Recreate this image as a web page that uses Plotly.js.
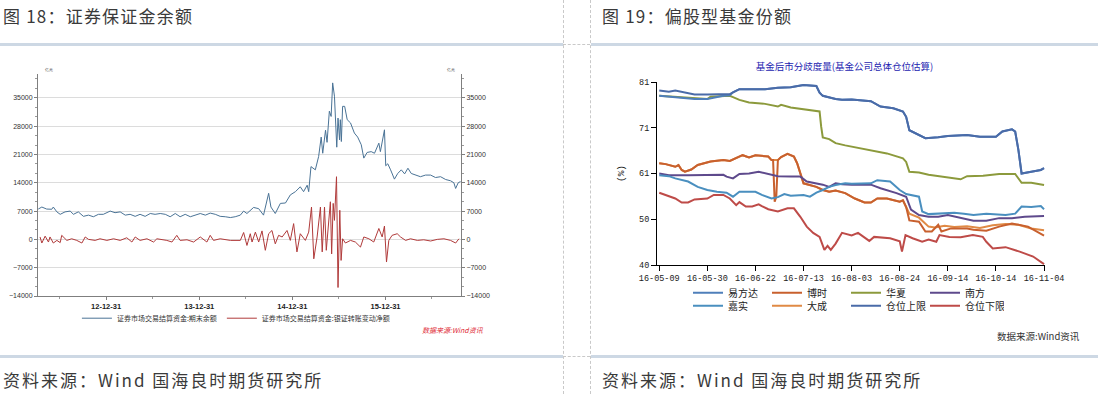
<!DOCTYPE html>
<html><head><meta charset="utf-8">
<script src="https://cdn.plot.ly/plotly-3.0.1.min.js"></script>
<style>
html,body{margin:0;padding:0;background:#fff;}
body{width:1098px;height:394px;position:relative;overflow:hidden;font-family:"Noto Sans CJK SC","Noto Sans",sans-serif;}
.hd{position:absolute;font-size:17px;line-height:24px;color:#3a3a3a;letter-spacing:1.2px;white-space:nowrap;}
.bar{position:absolute;height:3px;background:#cdd8e4;}
.vd{position:absolute;top:0;height:394px;border-left:1px dashed #c9c9c9;}
.hdsh{position:absolute;height:0;border-top:1px dashed #c9c9c9;}
.chart{position:absolute;top:0;height:394px;}
</style></head><body>
<div class="hd" style="left:3px;top:4px;">图 18：证券保证金余额</div>
<div class="hd" style="left:602px;top:4px;">图 19：偏股型基金份额</div>
<div class="bar" style="left:0;top:43px;width:563px;"></div>
<div class="bar" style="left:591px;top:43px;width:507px;"></div>
<div class="bar" style="left:0;top:355px;width:563px;"></div>
<div class="bar" style="left:591px;top:355px;width:507px;"></div>
<div class="vd" style="left:563px;"></div>
<div class="vd" style="left:590px;"></div>
<div class="hdsh" style="left:563px;top:44px;width:27px;"></div>
<div class="hdsh" style="left:563px;top:356px;width:27px;"></div>
<div class="hd" style="left:3px;top:368px;letter-spacing:2px;">资料来源：Wind 国海良时期货研究所</div>
<div class="hd" style="left:602px;top:368px;letter-spacing:2px;">资料来源：Wind 国海良时期货研究所</div>
<div id="c1" class="chart" style="left:0;width:563px;"></div>
<div id="c2" class="chart" style="left:591px;width:507px;"></div>
<script>
// ---------- Chart 1: 证券保证金 ----------
const balanceName = "证券市场交易结算资金:期末余额";
const changeName = "证券市场交易结算资金:银证转账变动净额";
const balanceDates = ["2012-04-09","2012-04-23","2012-05-12","2012-06-01","2012-06-07","2012-06-21","2012-07-04","2012-07-23","2012-08-12","2012-08-25","2012-09-13","2012-10-03","2012-10-23","2012-11-11","2012-12-01","2012-12-20","2013-01-16","2013-02-04","2013-02-24","2013-03-16","2013-04-04","2013-04-24","2013-05-13","2013-06-02","2013-06-22","2013-07-11","2013-07-31","2013-08-20","2013-09-08","2013-09-28","2013-10-17","2013-11-06","2013-11-26","2013-12-15","2014-01-04","2014-01-24","2014-02-12","2014-03-04","2014-03-23","2014-04-12","2014-05-02","2014-05-21","2014-06-10","2014-06-23","2014-07-06","2014-08-01","2014-08-21","2014-09-09","2014-09-29","2014-10-08","2014-10-25","2014-11-14","2014-12-04","2014-12-23","2015-01-12","2015-01-31","2015-02-13","2015-02-27","2015-03-05","2015-03-14","2015-03-31","2015-04-13","2015-04-23","2015-04-29","2015-05-10","2015-05-16","2015-05-25","2015-06-01","2015-06-07","2015-06-14","2015-06-19","2015-06-23","2015-06-28","2015-07-04","2015-07-07","2015-07-11","2015-07-16","2015-07-24","2015-08-03","2015-08-16","2015-08-31","2015-09-13","2015-09-27","2015-10-07","2015-10-20","2015-11-05","2015-11-18","2015-11-28","2015-12-05","2015-12-11","2015-12-19","2015-12-27","2016-01-01","2016-01-09","2016-01-20","2016-02-04","2016-02-17","2016-03-02","2016-03-15","2016-03-28","2016-04-10","2016-04-27","2016-05-16","2016-06-05","2016-06-25","2016-07-14","2016-08-03","2016-08-23","2016-09-11","2016-09-24","2016-10-01","2016-10-11","2016-10-20"];
const balanceVals = [7500,8000,7500,7450,8000,6800,6200,6800,7000,6200,6800,5700,6000,5600,6200,6200,7000,6600,6800,6000,6200,5700,6200,5700,6400,6200,6400,6200,5600,6400,5600,6200,5600,6000,6400,6000,6500,6200,5700,5600,5400,5600,6000,7000,6400,7900,7600,6000,11400,8000,6400,8900,9000,11000,11800,13000,11800,13400,11800,18000,17200,20500,25300,21300,27000,24000,31700,30400,38700,35400,25900,22800,30000,24600,29600,24200,32900,32900,29600,28800,26300,25300,23400,20100,21500,21700,21300,22600,23800,21700,24600,27100,18200,18700,17200,14900,16300,17200,16200,17600,16300,15900,15500,15900,15900,15300,15500,14800,14500,14000,12600,14000,14300];
const changeDates = ["2012-04-16","2012-04-23","2012-05-06","2012-05-19","2012-05-25","2012-06-07","2012-06-21","2012-07-04","2012-07-10","2012-07-30","2012-08-18","2012-09-07","2012-09-27","2012-10-10","2012-10-23","2012-11-18","2012-12-07","2013-01-03","2013-01-29","2013-02-24","2013-03-22","2013-04-11","2013-04-24","2013-05-13","2013-06-09","2013-07-05","2013-07-18","2013-08-26","2013-09-15","2013-10-04","2013-10-17","2013-11-13","2013-12-09","2014-01-04","2014-01-30","2014-02-12","2014-02-25","2014-03-23","2014-05-02","2014-06-10","2014-06-23","2014-07-06","2014-07-19","2014-07-26","2014-08-08","2014-08-21","2014-09-03","2014-09-16","2014-09-29","2014-10-12","2014-10-25","2014-11-07","2014-11-21","2014-12-10","2014-12-23","2015-01-05","2015-01-18","2015-01-31","2015-02-20","2015-03-05","2015-03-16","2015-03-25","2015-04-07","2015-04-20","2015-04-27","2015-05-06","2015-05-13","2015-05-23","2015-05-29","2015-06-03","2015-06-09","2015-06-14","2015-06-22","2015-06-28","2015-07-05","2015-07-10","2015-07-16","2015-07-27","2015-08-16","2015-09-04","2015-09-24","2015-10-07","2015-10-27","2015-11-15","2015-12-05","2015-12-18","2015-12-27","2016-01-04","2016-01-13","2016-01-26","2016-02-15","2016-02-28","2016-03-19","2016-04-07","2016-05-04","2016-05-29","2016-06-25","2016-07-21","2016-08-16","2016-09-11","2016-10-01","2016-10-14"];
const changeVals = [600,-900,800,-650,600,-900,-250,-800,1000,-250,150,-250,-900,600,0,-250,150,-250,150,-250,400,-650,600,-250,150,-650,150,-250,-650,1000,-250,-100,-650,600,-650,1000,-250,150,-250,-250,1700,-1500,1400,-650,1800,-650,2100,-2700,1400,2200,-1100,1000,600,2200,-250,3900,-3100,1400,-250,1800,8000,-4800,600,8000,-3100,8000,-2700,5600,9300,-3600,8900,4700,15500,-11900,7200,-5200,150,-900,-250,-650,-1900,600,150,-650,2700,600,3300,-5600,-250,1000,1400,600,-250,150,-250,-100,-400,0,150,-250,-900,150];
const c1Ticks = [-14000,-7000,0,7000,14000,21000,28000,35000];

const tickFont1 = {family:"Liberation Sans, Arial", size:7, color:"#333"};
const yCommon1 = {range:[-14000,40900], tickvals:c1Ticks, tickformat:"d", showline:true, linecolor:"#7f7f7f", linewidth:1,
  ticks:"outside", ticklen:3, tickcolor:"#7f7f7f", tickfont:tickFont1, zeroline:false,
  minor:{dtick:7000/3, ticks:"outside", ticklen:2, tickcolor:"#9a9a9a", showgrid:false}};
Plotly.newPlot("c1", [
  {x:balanceDates, y:balanceVals, name:balanceName, type:"scatter", mode:"lines", line:{color:"#4a7396", width:1}},
  {x:changeDates, y:changeVals, name:changeName, type:"scatter", mode:"lines", line:{color:"#b03a3a", width:1}},
  {x:balanceDates, y:balanceVals, yaxis:"y2", type:"scatter", mode:"lines", showlegend:false, hoverinfo:"skip", line:{color:"rgba(0,0,0,0)", width:0}}
], {
  width:563, height:394, margin:{l:38, r:102, t:74, b:98},
  paper_bgcolor:"rgba(0,0,0,0)", plot_bgcolor:"#fff", showlegend:true,
  xaxis:{type:"date", range:["2012-04-08","2016-10-22"], tick0:"2012-12-31", dtick:"M12", tickformat:"%y-%m-%d",
    showline:true, linecolor:"#7f7f7f", ticks:"outside", ticklen:3, tickcolor:"#7f7f7f", showgrid:false,
    tickfont:{family:"Liberation Sans, Arial", size:7.5, color:"#222", weight:"bold"},
    minor:{dtick:"M6", tick0:"2012-12-31", ticks:"outside", ticklen:2, tickcolor:"#9a9a9a", showgrid:false}},
  yaxis:Object.assign({}, yCommon1, {showgrid:true, gridcolor:"#dcdcdc", gridwidth:1}),
  yaxis2:Object.assign({}, yCommon1, {overlaying:"y", side:"right", showgrid:false}),
  legend:{orientation:"h", x:0.092, xanchor:"left", y:-0.1, yanchor:"middle",
    font:{family:"Noto Sans CJK SC", size:7, color:"#333"}, bgcolor:"rgba(0,0,0,0)"},
  annotations:[
    {xref:"paper", yref:"paper", x:0.01, y:1.0, xanchor:"left", yanchor:"bottom", text:"亿元", showarrow:false, font:{size:4, color:"#333"}},
    {xref:"paper", yref:"paper", x:0.99, y:1.0, xanchor:"right", yanchor:"bottom", text:"亿元", showarrow:false, font:{size:4, color:"#333"}},
    {xref:"paper", yref:"paper", x:(486-38)/423, y:-0.155, xanchor:"right", yanchor:"middle", text:"<i>数据来源:Wind资讯</i>", showarrow:false, font:{family:"Noto Sans CJK SC", size:7, color:"#e02a36"}}
  ]
}, {staticPlot:true});

// ---------- Chart 2: 基金后市分歧度量 ----------
const dayTickVals = [0,15,30,45,60,75,90,105,120];
const dayTickText = ["16-05-09","16-05-30","16-06-22","16-07-13","16-08-03","16-08-24","16-09-14","16-10-14","16-11-04"];
const yTickVals = [40,50.25,60.5,70.75,81];
const yTickText = ["40","50","61","71","81"];

const yfdX = [0,3,5,8,11,15,20,22,23,25,28,33,37,41,45,49,50,51,55,57,60,66,69,73,76,77,78,81,83,87,90,96,100,105,107,110,111,112,113,116,119,120];
const yfdY = [77.9,77.7,77.6,77.5,77.2,77.2,77.9,78.0,78.7,79.4,79.4,79.4,79.7,79.8,80.3,80.1,78.6,77.9,77.2,77.0,77.1,76.7,75.5,75.1,74.4,73.2,70.2,69.1,68.4,68.6,68.9,69.1,68.75,68.75,69.9,70.4,69.9,65.8,60.5,60.9,61.3,61.7];
const bsX = [0,2,5,6,7,8,10,12,16,20,22,24,26,28,30,34,35,35.5,36,36.5,37,38,40,42,43,45,49,51,53,55,58,61,64,66,68,71,75,76,77,78,81,83,85,87,88,91,96,98,102,106,110,115,119,120];
const bsY = [62.8,62.6,62.0,62.4,61.3,60.9,61.4,62.4,63.2,63.5,63.3,63.9,64.6,64.1,64.6,64.3,63.5,63.5,54.2,55.3,63.5,64.2,64.9,64.3,62.8,58.3,57.5,56.8,56.4,56.7,56.1,54.9,54.0,54.0,54.9,54.9,54.2,54.5,53.0,50.0,49.7,47.5,47.5,49.0,47.5,48.2,48.2,47.9,47.7,48.6,49.3,48.6,47.1,46.6];
const hxX = [0,4,9,12,15,16,20,22,23,25,28,33,37,38,41,45,50,50.5,51,53,55,58,60,66,71,76,77,78,81,84,87,91,94,96,101,106,111,113,116,120];
const hxY = [77.9,77.7,77.5,77.2,77.2,77.7,77.9,77.9,77.6,77.0,76.4,76.1,75.5,75.9,75.3,74.9,74.4,71.0,68.6,68.2,67.3,66.8,66.5,65.6,65.0,63.9,63.1,60.9,60.7,60.2,59.9,59.6,59.2,59.9,60.0,60.4,60.4,58.4,58.4,57.9];
const nfX = [0,3,9,15,20,21,23,25,28,31,33,37,41,44,46,49,51,53,55,57,60,66,69,74,77,78.5,81,84,87,90,94,98,102,106,110,114,120];
const nfY = [60.5,60.1,60.1,60.1,60.2,59.8,59.4,60.4,60.5,60.9,60.6,59.9,59.8,59.8,58.7,58.3,58.0,57.5,58.3,58.1,58.0,58.0,57.2,56.1,55.3,52.4,51.2,50.8,50.8,51.2,50.5,49.9,49.9,50.5,50.5,50.8,51.0];
const jsX = [0,3,5,9,12,15,18,21,23,25,27,30,32,35,37,39,41,45,47,49,51,53,55,58,60,66,68,72,75,77,81,82,84,88,92,95,98,102,108,111,113,116,119,120];
const jsY = [60.1,59.9,59.4,58.7,57.5,56.8,56.4,56.2,55.3,56.4,56.4,56.4,55.7,54.9,55.2,55.9,55.5,55.7,55.3,56.2,56.8,57.5,57.9,58.3,58.2,58.3,59.0,58.7,56.8,55.9,55.3,52.0,51.4,51.5,51.7,51.5,51.2,51.5,51.2,51.5,53.1,53.0,53.2,52.5];
const dcX = [0,2,5,6,7,8,10,12,16,20,22,24,26,28,30,34,35,37,38,40,42,43,45,49,51,53,55,58,61,64,66,68,71,75,76,77,78,81,84,86,89,92,96,100,104,108,112,116,120];
const dcY = [62.8,62.6,62.0,62.4,61.3,60.9,61.4,62.4,63.2,63.5,63.3,63.9,64.6,64.1,64.6,64.3,63.5,63.5,64.2,64.9,64.3,62.8,58.3,57.5,56.8,56.4,56.7,56.1,54.9,54.0,54.0,54.9,54.9,54.2,54.5,53.0,51.5,50.6,48.6,48.4,48.8,48.5,48.7,48.3,48.9,49.2,49.0,48.2,47.8];
const upX = [0,3,5,8,11,15,20,22,23,25,28,33,37,41,45,49,50,51,55,57,60,66,69,73,76,77,78,81,83,87,90,96,100,105,107,110,111,112,113,116,119,120];
const upY = [79.1,78.8,79.1,78.6,78.2,78.2,78.2,78.3,78.7,79.4,79.4,79.4,79.7,79.8,80.3,80.1,78.6,77.9,77.2,77.0,77.1,76.7,75.5,75.1,74.4,73.2,70.2,69.1,68.4,68.6,68.9,69.1,68.75,68.75,69.9,70.4,69.9,65.8,60.5,60.9,61.3,61.7];
const lowX = [0,2,5,7,9,11,15,17,20,22,24,25,27,29,31,32,34,37,40,42,44,46,48,50,50.5,51.5,52.5,53.5,55,57,60,62,65.5,67,72,75,75.7,76.8,79,82,84,86.4,87.4,90.5,94,97.8,100.9,102,104,108,112.4,116.6,120];
const lowY = [56.2,55.7,54.9,54.0,54.0,54.7,54.9,55.7,55.7,54.9,53.4,54.1,53.1,53.1,53.6,53.2,52.5,52.0,52.7,52.7,50.8,48.6,47.2,46.3,45.2,43.4,44.3,43.4,44.8,47.2,46.6,47.2,45.4,46.3,46.0,45.3,43.0,46.7,46.0,45.2,45.7,45.2,46.7,46.3,46.2,46.7,46.3,45.2,43.7,44.0,43.0,41.9,40.2];

const lw = 2;
const mk = (x, y, name, color, leg, rank) => ({x, y, name, type:"scatter", mode:"lines", line:{color, width:lw}, legend:leg, legendrank:rank});
const tickFont2 = {family:"Liberation Mono, DejaVu Sans Mono, monospace", size:8.5, color:"#222"};
const legFont2 = {family:"Noto Sans CJK SC", size:10, color:"#222"};
Plotly.newPlot("c2", [
  mk(dcX, dcY, "大成", "#e08a45", "legend2", 2),
  mk(bsX, bsY, "博时", "#c8602e", "legend", 2),
  mk(hxX, hxY, "华夏", "#8c9a3c", "legend", 3),
  mk(yfdX, yfdY, "易方达", "#4f7fba", "legend", 1),
  mk(nfX, nfY, "南方", "#5e4a8c", "legend", 4),
  mk(jsX, jsY, "嘉实", "#4a8fbf", "legend2", 1),
  mk(upX, upY, "仓位上限", "#4a6ba8", "legend2", 3),
  mk(lowX, lowY, "仓位下限", "#be4b48", "legend2", 4)
], {
  width:507, height:394, margin:{l:66, r:53, t:82, b:129},
  paper_bgcolor:"rgba(0,0,0,0)", plot_bgcolor:"rgba(0,0,0,0)", showlegend:true,
  title:{text:"基金后市分歧度量(基金公司总体仓位估算)", font:{family:"Noto Sans CJK SC", size:9.5, color:"#1c1cb0"}, x:0.5, xanchor:"center", y:0.83, yref:"container", yanchor:"middle"},
  xaxis:{range:[-0.7,120.3], tickvals:dayTickVals, ticktext:dayTickText, showline:true, linecolor:"#000", linewidth:1,
    ticks:"outside", ticklen:5, tickcolor:"#000", showgrid:false, zeroline:false, tickfont:tickFont2},
  yaxis:{range:[40,81], tickvals:yTickVals, ticktext:yTickText, showline:true, linecolor:"#000", linewidth:1,
    ticks:"outside", ticklen:5, tickcolor:"#000", showgrid:false, zeroline:false, tickfont:tickFont2,
    title:{text:"(%)", font:{family:"Liberation Mono, monospace", size:9.5, color:"#222"}, standoff:12}},
  legend:{orientation:"h", traceorder:"normal", x:(688-657)/388, xanchor:"left", y:-(292.7-265)/183, yanchor:"middle", entrywidth:34,
    font:legFont2, bgcolor:"rgba(0,0,0,0)"},
  legend2:{orientation:"h", traceorder:"normal", x:(688-657)/388, xanchor:"left", y:-(305.7-265)/183, yanchor:"middle", entrywidth:34,
    font:legFont2, bgcolor:"rgba(0,0,0,0)"},
  annotations:[
    {xref:"paper", yref:"paper", x:(1082-657)/388, y:-(336-265)/183, xanchor:"right", yanchor:"middle", text:"数据来源:Wind资讯", showarrow:false, font:{family:"Noto Sans CJK SC", size:9.5, color:"#333"}}
  ]
}, {staticPlot:true});
</script>
</body></html>
